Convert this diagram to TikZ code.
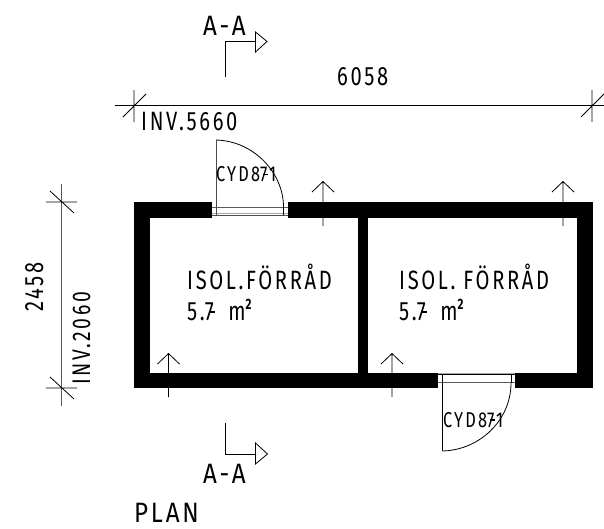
\documentclass[tikz,border=0pt]{standalone}
\usepackage{fontspec}
\setmainfont{Fira Sans}[FakeStretch=0.76,LetterSpace=10]
\newcommand{\sevbar}{\leavevmode\rlap{\kern0.15em\rule[0.3em]{0.22em}{0.05em}}7}
\newcommand{\sqm}{m\raisebox{0.42em}{\fontsize{15}{15}\selectfont\bfseries 2}}
\tikzset{
  lbl/.style={inner sep=0pt,anchor=base west,text=black},
  big/.style={lbl,font=\fontsize{28}{28}\selectfont\addfontfeature{FakeStretch=0.86}},
  mid/.style={lbl,font=\fontsize{26.5}{26.5}\selectfont},
  door/.style={lbl,font=\fontsize{21.5}{21.5}\selectfont},
  thin/.style={draw=black,line width=0.8pt},
  greyline/.style={draw=black!65,line width=1pt}
}
\begin{document}
\begin{tikzpicture}[x=1pt,y=-1pt]
\useasboundingbox[fill=white] (0,0) rectangle (604,528);
% walls
\fill[black] (134,202) rectangle (212,218);
\fill[black] (288,202) rectangle (593,218);
\fill[black] (134,202) rectangle (150,388);
\fill[black] (577,202) rectangle (593,388);
\fill[black] (134,372.5) rectangle (438,388);
\fill[black] (515,372.5) rectangle (593,388);
\fill[black] (358,202) rectangle (368,388);
% top door
\draw[greyline] (212,207.5) -- (288,207.5);
\draw[draw=black!70,line width=.8pt] (212,215.5) -- (288,215.5);
\draw[draw=black!35,line width=.6pt] (212,213.5) -- (288,213.5);
\draw[draw=black!70,line width=.8pt] (216,140) -- (216,215);
\draw[thin] (283.5,207) -- (283.5,215);
\draw[thin] (216,140) .. controls (254,141) and (283.5,173) .. (283.5,207);
% bottom door
\draw[greyline] (438,382) -- (515,382);
\draw[thin] (438,374.5) -- (515,374.5);
\draw[draw=black!35,line width=.6pt] (438,372.8) -- (515,372.8);
\draw[thin] (442.5,374.5) -- (442.5,451);
\draw[thin] (511,374.5) -- (511,383);
\draw[thin] (442.5,451) .. controls (480,450) and (511,420) .. (511,383);
% arrows
\draw[thin] (323,226) -- (323,182) (312,192) -- (323,181.5) -- (334,192);
\draw[thin] (563,226) -- (563,182) (552,192) -- (563,181.5) -- (574,192);
\draw[thin] (168.5,397) -- (168.5,354) (157.5,364) -- (168.5,353.5) -- (179.5,364);
\draw[thin] (392,397) -- (392,354) (381,364) -- (392,353.5) -- (403,364);
% dimensions
\draw[thin] (115,105) -- (604,105);
\draw[thin] (134,90) -- (134,122) (123,117) -- (146,94);
\draw[thin] (592,90) -- (592,122) (581,117) -- (604,94);
\draw[greyline] (61.5,184) -- (61.5,406);
\draw[thin] (46,202) -- (77,202) (50,191) -- (74,213);
\draw[thin] (46,388) -- (77,388) (50,377) -- (74,399);
% section marks
\draw[thin] (225.5,77) -- (225.5,41) -- (255,41);
\draw[thin] (255.5,32) -- (267,41.5) -- (255.5,52) -- cycle;
\draw[thin] (225.5,423) -- (225.5,454) -- (255,454);
\draw[thin] (255.5,443) -- (267.5,454) -- (255.5,464) -- cycle;
% texts
\node[big] (aa1) at (203,35) {A-A};
\node[big] (aa2) at (203,483) {A-A};
\node[mid] (w) at (337,85) {6058};
\node[mid] (inv1) at (141,130) {INV.5660};
\node[mid,rotate=90] (h) at (43,312) {2458};
\node[mid,rotate=90,font=\fontsize{25.5}{25.5}\selectfont] (inv2) at (90,385) {INV.2060};
\node[mid] (r1) at (187,289) {ISOL.FÖRRÅD};
\node[mid] (r1b) at (187,320.5) {5.\sevbar\kern0.55em\sqm};
\node[mid] (r2) at (399,289) {ISOL. FÖRRÅD};
\node[mid] (r2b) at (399,320.5) {5.\sevbar\kern0.55em\sqm};
\node[door] (d1) at (216,181.5) {CYD8\sevbar 1};
\node[door] (d2) at (443,427) {CYD8\sevbar 1};
\node[big] (plan) at (134,522) {PLAN};
\end{tikzpicture}
\end{document}
